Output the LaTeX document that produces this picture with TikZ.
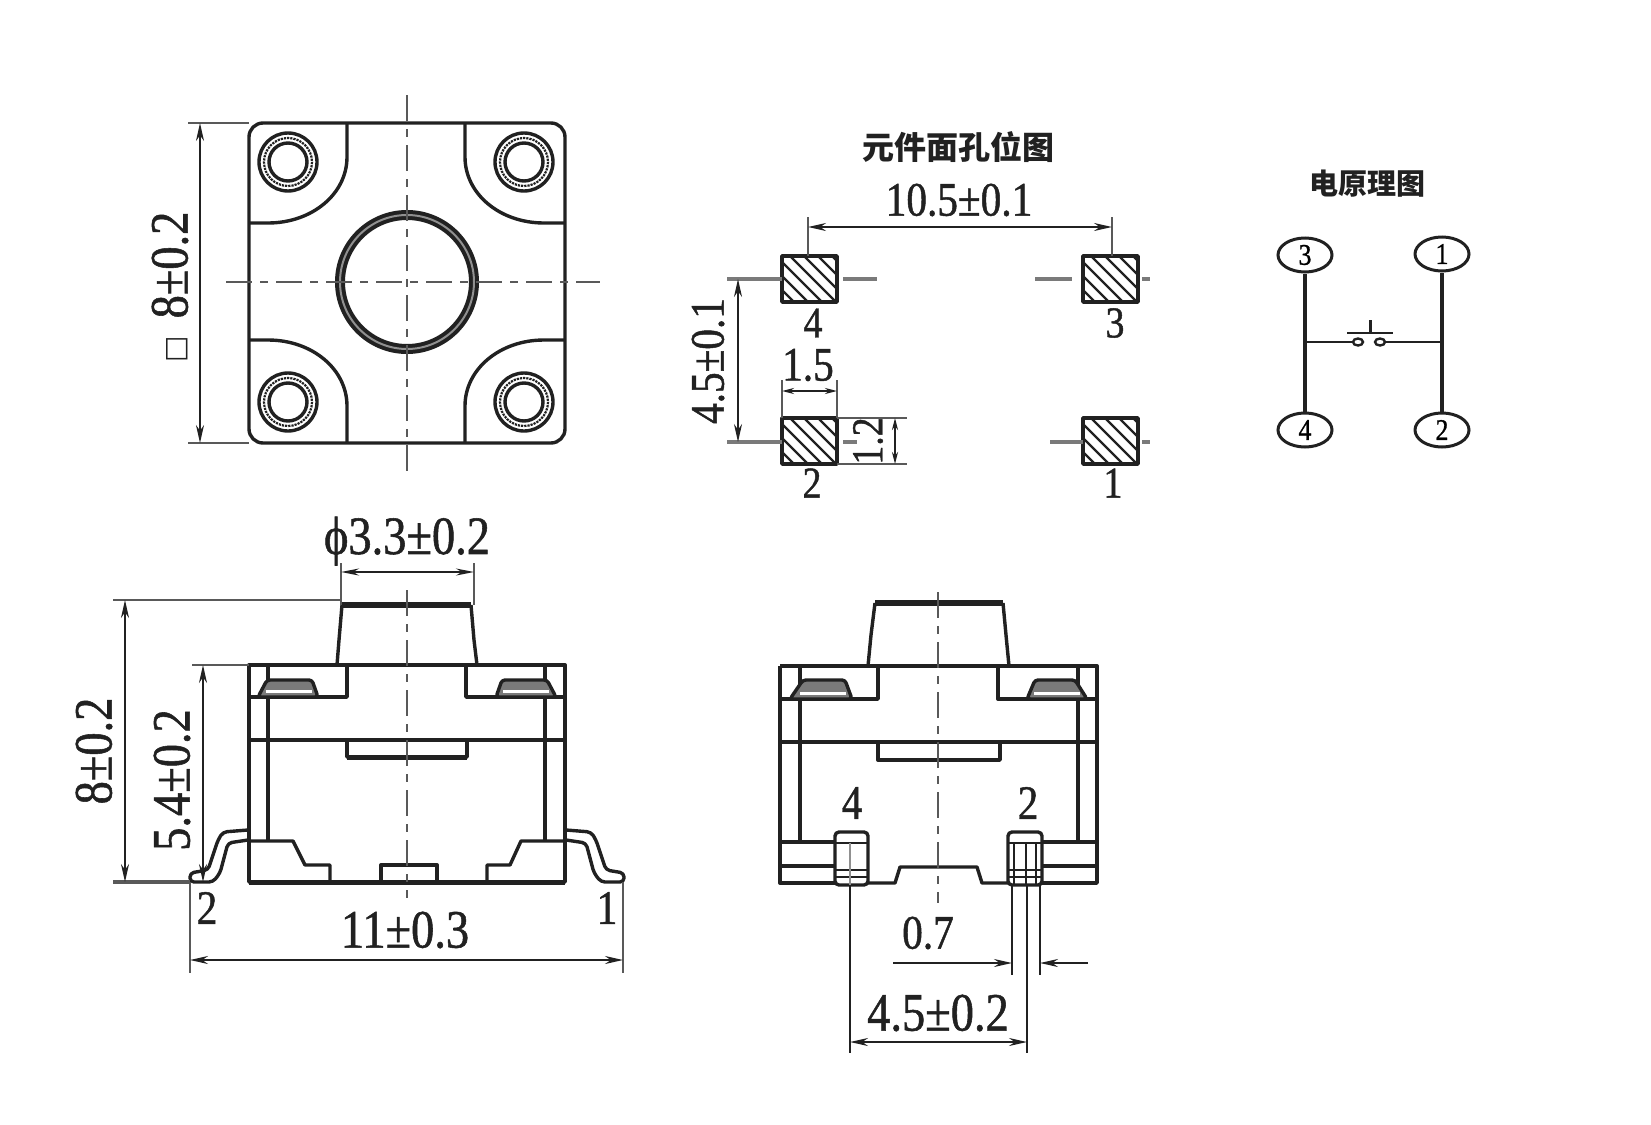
\documentclass[tikz,border=0pt]{standalone}
\usepackage{fontspec}
\setmainfont{Liberation Serif}
\newfontfamily\cjkfont{Noto Sans CJK SC}
\newfontfamily\symfont{DejaVu Sans}
\newfontfamily\dimfont[FakeStretch=.86, FakeBold=1]{Liberation Serif}
\newfontfamily\holefont[FakeStretch=.86, FakeBold=1]{Liberation Serif}
\usetikzlibrary{arrows.meta}
\usetikzlibrary{shapes.geometric}
\definecolor{ink}{gray}{0.13}
\tikzset{
    outline/.style={draw=ink, line width=3.4pt, line join=round},
    thinline/.style={draw=ink, line width=2.2pt},
    extline/.style={draw=ink!75, line width=2.4pt},
    dimline/.style={draw=ink, line width=2.2pt, <->, >={Stealth[length=18pt, width=8pt]}},
    oneway/.style={draw=ink, line width=2.2pt, ->, >={Stealth[length=18pt, width=8pt]}},
    centerline/.style={draw=ink!75, line width=2.6pt, dash pattern=on 26pt off 8pt on 8pt off 8pt},
    padline/.style={draw=ink!60, line width=3.4pt},
    dimtext/.style={text=ink, inner sep=0, font=\dimfont\fontsize{54}{54}\selectfont},
    holetext/.style={text=ink, inner sep=0, font=\holefont\fontsize{48}{48}\selectfont},
    labeltext/.style={text=ink, inner sep=0, font=\holefont\fontsize{44}{44}\selectfont},
    titletext/.style={text=ink, inner sep=0, font=\cjkfont\bfseries\fontsize{32}{32}\selectfont},
    pinring/.style={draw=ink, line width=3pt, ellipse, minimum width=54pt, minimum height=34pt, inner sep=0, font=\holefont\fontsize{30}{30}\selectfont},
    contact/.style={draw=ink, line width=2.4pt, ellipse, minimum width=10pt, minimum height=7pt, inner sep=0},
    springbump/.style={outline, fill=ink!60, rounded corners=3pt},
    bumpstripe/.style={draw=white, line width=3pt}
}
\begin{document}
\begin{tikzpicture}[x=1pt, y=-1pt]
    \useasboundingbox (0,0) rectangle (1651,1124);
    % top view
    \draw[outline, rounded corners=14pt] (249,123) rectangle (565,443);
    \draw[outline] (347,123) -- (347,157) .. controls (347,194) and (312,223) .. (268,223) -- (249,223);
    \draw[outline] (465,123) -- (465,157) .. controls (465,194) and (500,223) .. (544,223) -- (565,223);
    \draw[outline] (347,443) -- (347,406) .. controls (347,369) and (312,340) .. (268,340) -- (249,340);
    \draw[outline] (465,443) -- (465,406) .. controls (465,369) and (500,340) .. (544,340) -- (565,340);
    \draw[draw=ink, line width=10pt] (407,282) circle (67);
    \draw[draw=ink!50, line width=2pt] (407,282) circle (67);
    \foreach \hx/\hy in {288/162, 524/162, 288/402, 524/402} {
        \draw[outline] (\hx,\hy) circle (29);
        \draw[thinline, densely dotted] (\hx,\hy) circle (24);
        \draw[outline] (\hx,\hy) circle (19);
    }
    \draw[centerline] (407,95) -- (407,478);
    \draw[centerline] (226,282) -- (600,282);
    \draw[extline] (188,123) -- (249,123);
    \draw[extline] (188,443) -- (249,443);
    \draw[dimline] (200,123) -- (200,443);
    \node[dimtext, rotate=90] (topsize) at (170,265) {8±0.2};
    \node[dimtext, rotate=90, font=\symfont\fontsize{28}{28}\selectfont] (topsquare) at (177,349) {□};
    % hole layout
    \node[titletext] (holetitle) at (958,147) {元件面孔位图};
    \node[holetext] (holewidth) at (959,200) {10.5±0.1};
    \foreach \px/\py in {782/256, 1083/256, 782/418, 1083/418} {
        \begin{scope}
            \clip (\px,\py) rectangle ++(55,46);
            \foreach \k in {-3,...,7}
                \draw[thinline] (\px+\k*14-6,\py) -- ++(48,48);
        \end{scope}
        \draw[outline, line width=3.6pt] (\px,\py) rectangle ++(55,46);
    }
    \draw[padline] (727,279) -- (782,279);
    \draw[padline] (843,279) -- (877,279);
    \draw[padline] (1035,279) -- (1072,279);
    \draw[padline] (1142,279) -- (1150,279);
    \draw[padline] (727,442) -- (782,442);
    \draw[padline] (843,442) -- (857,442);
    \draw[padline] (1050,442) -- (1083,442);
    \draw[padline] (1142,442) -- (1150,442);
    \draw[extline] (808,217) -- (808,256);
    \draw[extline] (1112,217) -- (1112,256);
    \draw[dimline] (808,227) -- (1112,227);
    \draw[dimline] (738,279) -- (738,442);
    \node[holetext, rotate=90] (holepitch) at (708,361) {4.5±0.1};
    \draw[extline] (782,380) -- (782,418);
    \draw[extline] (837,380) -- (837,418);
    \draw[dimline, >={Stealth[length=12pt, width=6pt]}] (782,391) -- (837,391);
    \node[holetext] (padwidth) at (808,365) {1.5};
    \draw[extline] (837,418) -- (907,418);
    \draw[extline] (837,464) -- (907,464);
    \draw[dimline, >={Stealth[length=12pt, width=6pt]}] (895,418) -- (895,464);
    \node[holetext, rotate=90, font=\holefont\fontsize{44}{44}\selectfont] (padheight) at (868,441) {1.2};
    \node[labeltext] (hole4) at (813,323) {4};
    \node[labeltext] (hole3) at (1115,323) {3};
    \node[labeltext] (hole2) at (812,483) {2};
    \node[labeltext] (hole1) at (1113,483) {1};
    % circuit
    \node[titletext, font=\cjkfont\bfseries\fontsize{29}{29}\selectfont] (circuittitle) at (1367,184) {电原理图};
    \node[pinring] (pin3) at (1305,255) {3};
    \node[pinring] (pin1) at (1442,254) {1};
    \node[pinring] (pin4) at (1305,430) {4};
    \node[pinring] (pin2) at (1442,430) {2};
    \draw[outline] (pin3) -- (pin4);
    \draw[outline] (pin1) -- (pin2);
    \coordinate (leftjoin) at (1305,342);
    \coordinate (rightjoin) at (1442,342);
    \node[contact] (contacta) at (1358,342) {};
    \node[contact] (contactb) at (1380,342) {};
    \draw[thinline, line width=2.8pt] (leftjoin) -- (contacta);
    \draw[thinline, line width=2.8pt] (contactb) -- (rightjoin);
    \draw[thinline] (1347,333) -- (1393,333);
    \draw[thinline, line width=3pt] (1370,320) -- (1370,333);
    % front view
    \draw[draw=ink, line width=5.5pt] (342,605) -- (471,605);
    \draw[outline] (342,605) -- (339,640) -- (337,665);
    \draw[outline] (471,605) -- (474,640) -- (477,665);
    \draw[outline] (249,665) rectangle (565,882);
    \draw[outline] (268,665) -- (268,841);
    \draw[outline] (545,665) -- (545,841);
    \draw[outline] (249,697) -- (347,697) -- (347,665);
    \draw[outline] (565,697) -- (466,697) -- (466,665);
    \draw[outline] (249,740) -- (565,740);
    \draw[outline] (347,740) -- (347,757) -- (467,757) -- (467,740);
    \draw[draw=ink, line width=5pt] (347,757) -- (467,757);
    \draw[springbump] (258,697) -- (267,680) -- (312,680) -- (318,697) -- cycle;
    \draw[springbump] (496,697) -- (502,680) -- (547,680) -- (556,697) -- cycle;
    \draw[bumpstripe] (266,691) -- (312,691);
    \draw[bumpstripe] (503,691) -- (549,691);
    \draw[outline] (249,841) -- (293,841) -- (305,865) -- (330,865) -- (330,882);
    \draw[outline] (565,841) -- (521,841) -- (510,865) -- (487,865) -- (487,882);
    \draw[outline] (381,882) -- (381,865) -- (437,865) -- (437,882);
    \draw[draw=ink, line width=5pt] (249,882) -- (565,882);
    % leads
    \draw[outline, rounded corners=4pt] (248,830) -- (223,832) -- (218,840) -- (208,870) -- (190,873) -- (190,882) -- (213,882) -- (220,873) -- (228,843) -- (248,840);
    \draw[outline, rounded corners=4pt] (566,830) -- (591,832) -- (596,840) -- (606,870) -- (624,873) -- (624,882) -- (601,882) -- (594,873) -- (586,843) -- (566,840);
    \draw[centerline] (407,590) -- (407,898);
    \draw[extline] (341,563) -- (341,605);
    \draw[extline] (474,563) -- (474,605);
    \draw[dimline, >={Stealth[length=18pt, width=7pt]}] (341,572) -- (474,572);
    \node[dimtext] (capsize) at (407,541) {ϕ3.3±0.2};
    \draw[extline] (113,600) -- (342,600);
    \draw[extline, line width=3.4pt] (113,882) -- (190,882);
    \draw[dimline] (125,600) -- (125,882);
    \node[dimtext, rotate=90] (height) at (94,751) {8±0.2};
    \draw[extline] (192,665) -- (249,665);
    \draw[dimline] (203,665) -- (203,882);
    \node[dimtext, rotate=90] (bodyheight) at (172,780) {5.4±0.2};
    \draw[extline] (190,882) -- (190,973);
    \draw[extline] (623,882) -- (623,973);
    \draw[dimline] (190,960) -- (623,960);
    \node[dimtext] (span) at (405,930) {11±0.3};
    \node[holetext] (lead2) at (207,908) {2};
    \node[holetext] (lead1) at (607,908) {1};
    % side view
    \draw[draw=ink, line width=5.5pt] (875,603) -- (1003,603);
    \draw[outline] (875,603) -- (871,635) -- (868,666);
    \draw[outline] (1003,603) -- (1006,635) -- (1009,666);
    \draw[outline] (780,666) -- (1097,666) -- (1097,883) -- (1042,883);
    \draw[outline] (780,666) -- (780,883) -- (835,883);
    \draw[outline] (800,666) -- (800,842);
    \draw[outline] (1078,666) -- (1078,842);
    \draw[outline] (780,699) -- (878,699) -- (878,666);
    \draw[outline] (1097,699) -- (998,699) -- (998,666);
    \draw[outline] (780,742) -- (1097,742);
    \draw[outline] (878,742) -- (878,760) -- (1000,760) -- (1000,742);
    \draw[springbump] (790,699) -- (803,680) -- (845,680) -- (852,699) -- cycle;
    \draw[springbump] (1027,699) -- (1035,680) -- (1075,680) -- (1087,699) -- cycle;
    \draw[bumpstripe] (800,693) -- (846,693);
    \draw[bumpstripe] (1034,693) -- (1080,693);
    \draw[outline] (780,842) -- (835,842);
    \draw[outline] (1042,842) -- (1097,842);
    \draw[outline] (780,866) -- (835,866);
    \draw[outline] (1042,866) -- (1097,866);
    \draw[outline] (868,883) -- (895,883) -- (900,867) -- (977,867) -- (982,883) -- (1008,883);
    \draw[outline, rounded corners=4pt] (835,832) rectangle (868,885);
    \draw[outline, rounded corners=4pt] (1008,832) rectangle (1042,885);
    \draw[thinline] (835,843) -- (868,843);
    \draw[thinline] (835,870) -- (868,870);
    \draw[thinline] (835,877) -- (868,877);
    \draw[thinline] (1008,843) -- (1042,843);
    \draw[thinline] (1008,870) -- (1042,870);
    \draw[thinline] (1008,877) -- (1042,877);
    \draw[thinline, draw=ink!50] (850,843) -- (850,885);
    \draw[thinline] (1014,843) -- (1014,885);
    \draw[thinline] (1036,843) -- (1036,885);
    \draw[thinline] (1026,843) -- (1026,885);
    \node[holetext] (side4) at (852,803) {4};
    \node[holetext] (side2) at (1028,803) {2};
    \draw[centerline] (938,592) -- (938,903);
    \draw[thinline] (850,885) -- (850,1053);
    \draw[thinline] (1027,885) -- (1027,1053);
    \draw[thinline] (1012,885) -- (1012,975);
    \draw[thinline] (1040,885) -- (1040,975);
    \draw[oneway] (893,963) -- (1012,963);
    \draw[oneway] (1088,963) -- (1040,963);
    \node[holetext] (leadwidth) at (928,933) {0.7};
    \draw[dimline] (850,1042) -- (1027,1042);
    \node[dimtext] (leadpitch) at (938,1013) {4.5±0.2};
\end{tikzpicture}
\end{document}
